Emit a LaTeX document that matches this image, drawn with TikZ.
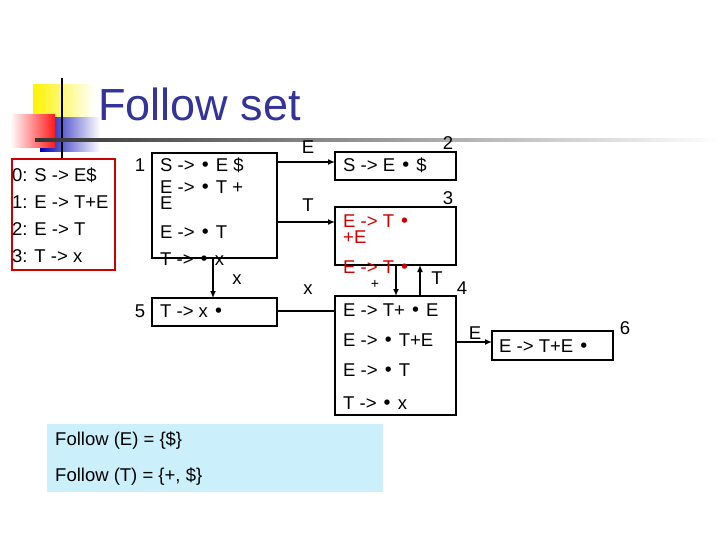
\documentclass[tikz,border=0pt]{standalone}
\usepackage{fontspec}
\setmainfont{Liberation Sans}
\newfontfamily\dv{DejaVu Sans}
\usetikzlibrary{arrows.meta}
\definecolor{ttl}{RGB}{51,51,153}
\newcommand{\dt}{{\dv •}}
\begin{document}
\begin{tikzpicture}[x=1pt,y=-1pt,font=\fontsize{18.5}{20}\selectfont,
 box/.style={draw,line width=2.4pt},
 txt/.style={anchor=west,inner sep=0pt},
 lab/.style={inner sep=0pt},
 arr/.style={line width=1.6pt,-{Latex[length=7pt,width=6pt]}},
 ln/.style={line width=1.6pt}]
\useasboundingbox (0,0) rectangle (720,540);
% decoration
\fill[left color=yellow!90!orange,right color=white] (33,85) rectangle (95,130);
\fill[left color=blue!70!black,right color=white] (40,118) rectangle (100,152);
\fill[left color=white,right color=red!90] (10,115) rectangle (55,148);
\draw[line width=2.5pt] (62,78) -- (62,158);
\shade[left color=black!80,right color=white] (35,139) rectangle (720,142);
\node[lab,anchor=west,text=ttl,font=\fontsize{45}{48}\selectfont] (title) at (98,104) {Follow set};
% grammar
\draw[red!80!black,line width=2.5pt] (12,159) rectangle (115,270);
\node[txt] (g0) at (12,175) {0: S -> E\$};
\node[txt] (g1) at (12,202) {1: E -> T+E};
\node[txt] (g2) at (12,229) {2: E -> T};
\node[txt] (g3) at (12,256) {3: T -> x};
% box1
\draw[box] (152,153) rectangle (277,258);
\node[lab] (n1) at (140,165) {1};
\node[txt] at (160,165) {S -> \dt\ E \$};
\node[txt] at (160,187) {E -> \dt\ T +};
\node[txt] at (160,203) {E};
\node[txt] at (160,232) {E -> \dt\ T};
\node[txt] at (160,259) {T -> \dt\ x};
% box5
\draw[box] (152,298) rectangle (277,326);
\node[lab] (n5) at (140,311) {5};
\node[txt] at (160,311) {T -> x \dt};
\draw[arr] (213,258) -- (213,298);
\node[lab] at (237,280) {x};
% box2
\draw[box] (335,152) rectangle (456,180);
\node[lab] at (448,143) {2};
\node[txt] at (343,165) {S -> E \dt\ \$};
% box3
\draw[box] (335,207) rectangle (456,265);
\node[lab] at (448,198) {3};
\begin{scope}[red!80!black]
\node[txt] at (343,221) {E -> T \dt};
\node[txt] at (343,237) {+E};
\node[txt] at (343,267) {E -> T \dt};
\end{scope}
\node[lab,font=\fontsize{14}{15}\selectfont] at (375,284) {+};
% box4
\draw[box] (335,296) rectangle (456,415);
\node[lab] at (462,288) {4};
\node[txt] at (343,310) {E -> T+ \dt\ E};
\node[txt] at (343,340) {E -> \dt\ T+E};
\node[txt] at (343,370) {E -> \dt\ T};
\node[txt] at (343,403) {T -> \dt\ x};
\draw[arr] (396,265) -- (396,296);
\draw[arr] (420,296) -- (420,265);
\node[lab] at (437,278) {T};
% box6
\draw[box] (492,331) rectangle (613,360);
\node[lab] at (625,328) {6};
\node[txt] at (499,346) {E -> T+E \dt};
\draw[arr] (456,342) -- (492,342);
\node[lab] at (475,333) {E};
% transitions from box1
\draw[arr] (277,162) -- (335,162);
\node[lab] at (308,147) {E};
\draw[arr] (277,222) -- (335,222);
\node[lab] at (308,205) {T};
\draw[ln] (277,311) -- (335,311);
\node[lab] at (308,290) {x};
% follow
\fill[cyan!20] (47,424) rectangle (383,492);
\node[txt] at (55,441) {Follow (E) = \{\$\}};
\node[txt] at (55,477) {Follow (T) = \{+, \$\}};
\end{tikzpicture}
\end{document}
